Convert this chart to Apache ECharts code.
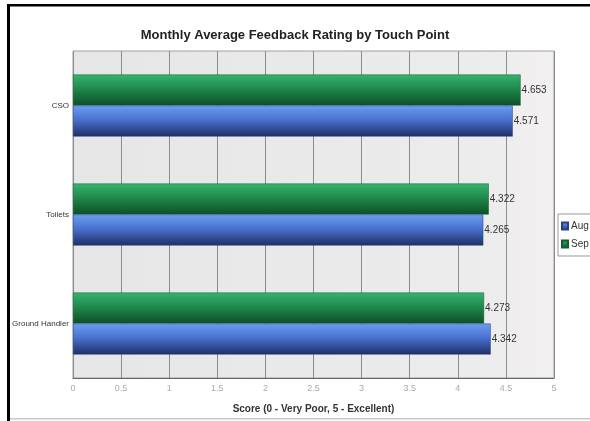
<!DOCTYPE html>
<html>
<head>
<meta charset="utf-8">
<script src="https://cdn.jsdelivr.net/npm/echarts@6/dist/echarts.min.js"></script>
<style>html,body{margin:0;padding:0;background:#fff}#c{width:590px;height:421px}</style>
</head>
<body>
<div id="c"></div>
<script>
var categories = ['Ground Handler', 'Toilets', 'CSO'];
var augValues = [4.342, 4.265, 4.571];
var sepValues = [4.273, 4.322, 4.653];
var xTicks = ['0', '0.5', '1', '1.5', '2', '2.5', '3', '3.5', '4', '4.5', '5'];

var chart = echarts.init(document.getElementById('c'));
function grad(top, mid, bot) {
  return new echarts.graphic.LinearGradient(0, 0, 0, 1, [
    {offset: 0, color: top}, {offset: 0.45, color: mid}, {offset: 1, color: bot}
  ]);
}
var FONT = 'Liberation Sans, Arial';
chart.setOption({
  backgroundColor: '#fff',
  animation: false,
  title: {
    text: 'Monthly Average Feedback Rating by Touch Point',
    left: 'center', top: 24,
    textStyle: {fontFamily: FONT, fontSize: 13, fontWeight: 'bold', color: '#222'}
  },
  legend: {
    orient: 'vertical', left: 558, top: 214,
    data: ['Aug', 'Sep'],
    itemWidth: 6, itemHeight: 7, itemGap: 8,
    icon: 'rect',
    borderColor: '#999', borderWidth: 1, padding: [7, 8, 7, 3],
    backgroundColor: '#fff',
    textStyle: {fontFamily: FONT, fontSize: 10, color: '#333', padding: [0, 0, 0, -2]}
  },
  grid: {
    left: 73, right: 36, top: 51, bottom: 43,
    show: true,
    backgroundColor: new echarts.graphic.LinearGradient(0, 0, 1, 0, [
      {offset: 0, color: '#e6e6e6'}, {offset: 0.85, color: '#ececec'}, {offset: 1, color: '#f3f0f0'}
    ]),
    borderColor: '#a0a0a0', borderWidth: 1
  },
  xAxis: {
    type: 'value', min: 0, max: 5, interval: 0.5,
    name: 'Score (0 - Very Poor, 5 - Excellent)',
    nameLocation: 'middle', nameGap: 26,
    nameTextStyle: {fontFamily: FONT, fontSize: 10, fontWeight: 'bold', color: '#333'},
    axisLine: {show: true, lineStyle: {color: '#666', width: 1}},
    axisTick: {show: false},
    axisLabel: {
      fontFamily: FONT, fontSize: 9, color: '#aaa', margin: 6,
      formatter: function (v) { var i = Math.round(v * 2); return xTicks[i]; }
    },
    splitLine: {show: true, lineStyle: {color: '#8c8c8c', width: 1}}
  },
  yAxis: {
    type: 'category', data: categories,
    axisLine: {show: false},
    axisTick: {show: false},
    axisLabel: {fontFamily: FONT, fontSize: 8, color: '#333', margin: 4},
    splitLine: {show: false}
  },
  series: [
    {
      name: 'Sep', type: 'bar', data: sepValues, barWidth: 31, barGap: '0%',
      itemStyle: {color: grad('#36b46e', '#1f8a4c', '#0e4f27'), borderColor: '#145c30', borderWidth: 0.5},
      label: {show: true, position: 'right', distance: 1, fontFamily: FONT, fontSize: 10, color: '#333',
        formatter: function (p) { return p.value.toFixed(3); }}
    },
    {
      name: 'Aug', type: 'bar', data: augValues, barWidth: 31, barGap: '0%',
      itemStyle: {color: grad('#6a9df2', '#4a72d0', '#1e2f66'), borderColor: '#2a3f80', borderWidth: 0.5},
      label: {show: true, position: 'right', distance: 1, fontFamily: FONT, fontSize: 10, color: '#333',
        formatter: function (p) { return p.value.toFixed(3); }}
    }
  ],
  graphic: [
    {type: 'rect', shape: {x: 7, y: 4, width: 3, height: 417}, style: {fill: '#000'}, silent: true},
    {type: 'rect', shape: {x: 7, y: 4, width: 583, height: 2.5}, style: {fill: '#000'}, silent: true},
    {type: 'rect', shape: {x: 10, y: 418, width: 580, height: 1.5}, style: {fill: '#c8c8c8'}, silent: true}
  ]
});
</script>
</body>
</html>
